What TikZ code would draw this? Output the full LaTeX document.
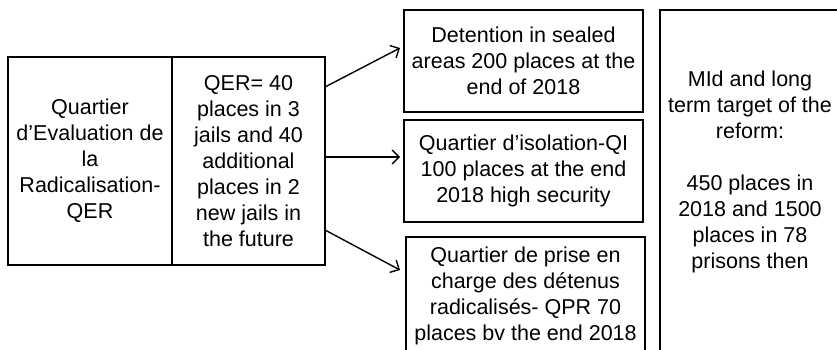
\documentclass[tikz,border=0pt]{standalone}
\usepackage{fontspec}
\setmainfont{Liberation Sans}
\usetikzlibrary{arrows.meta,calc}
\tikzset{>={Straight Barb[length=7pt,width=14pt]}}
\tikzset{box/.style={draw,line width=1.6pt,inner sep=0pt,outer sep=0pt,align=center,
  font=\fontsize{21.5}{26}\selectfont}}

\begin{document}
\begin{tikzpicture}[x=1pt,y=-1pt]
\useasboundingbox (0,0) rectangle (837,350);
\node[box,minimum width=164pt,minimum height=208pt] (qer) at (90,161)
  {Quartier\\d’Evaluation de\\la\\Radicalisation-\\QER};
\node[box,minimum width=153pt,minimum height=208pt] (qerplaces) at (248.5,161)
  {QER= 40\\places in 3\\jails and 40\\additional\\places in 2\\new jails in\\the future};
\node[box,minimum width=239pt,minimum height=102pt] (sealed) at (523.5,61)
  {Detention in sealed\\areas 200 places at the\\end of 2018};
\node[box,minimum width=239pt,minimum height=102pt] (isol) at (523.5,171)
  {Quartier d’isolation-QI\\100 places at the end\\2018 high security};
\node[box,minimum width=239pt,minimum height=117pt] (qpr) at (525.5,295.5)
  {Quartier de prise en\\charge des détenus\\radicalisés- QPR 70\\places bv the end 2018};
\node[box,minimum width=190pt,minimum height=356pt] (target) at (755,188) {};
\node[align=center,inner sep=0pt,font=\fontsize{21.5}{26}\selectfont] (targettext) at (750,172)
  {MId and long\\term target of the\\reform:\\[26pt]450 places in\\2018 and 1500\\places in 78\\prisons then};
%arrows
\draw[->,line width=1.4pt] ([yshift=74pt]qerplaces.east) -- ([xshift=-4pt,yshift=13pt]sealed.west);
\draw[->,line width=1.4pt] ([yshift=4pt]qerplaces.east) -- ([xshift=-4pt,yshift=14pt]isol.west);
\draw[->,line width=1.4pt] ([yshift=-69pt]qerplaces.east) -- ([xshift=-6pt,yshift=25.5pt]qpr.west);
\end{tikzpicture}
\end{document}
